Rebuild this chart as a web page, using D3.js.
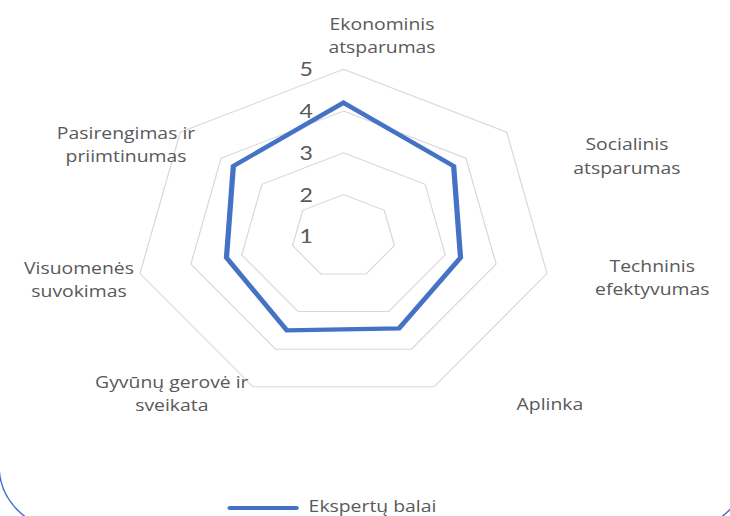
<!DOCTYPE html>
<html>
<head>
<meta charset="utf-8">
<script src="https://cdn.jsdelivr.net/npm/d3@7"></script>
<style>
  html, body { margin: 0; padding: 0; background: #ffffff; }
  svg { display: block; }
</style>
</head>
<body>
<div id="chart"></div>
<script>
// ---------- data ----------
const categories = [
  "Ekonominis atsparumas",
  "Socialinis atsparumas",
  "Techninis efektyvumas",
  "Aplinka",
  "Gyvūnų gerovė ir sveikata",
  "Visuomenės suvokimas",
  "Pasirengimas ir priimtinumas"
];
const seriesName = "Ekspertų balai";
const seriesValues = [4.2, 3.7, 3.3, 3.45, 3.5, 3.3, 3.7];
const tickValues = [1, 2, 3, 4, 5];
const tickLabels = ["1", "2", "3", "4", "5"];

// ---------- layout ----------
const W = 730, H = 516;
const stretchX = 1.25;          // the reference is drawn horizontally stretched
const cx = 274.8, cy = 236.3, R = 167;
// label block centre offsets from the outer vertex (unstretched space)
const labelNudge = [[30.8, -33.3], [96.2, 24.3], [84.2, 4.5], [92.7, 18.2], [-64.9, 7.2], [-48.8, 6.5], [-43.4, 12.8]];
const textColor = "#595959", gridColor = "#d9d9d9", blue = "#4472C4";

const svg = d3.select("#chart").append("svg").attr("width", W).attr("height", H);

// decorative rounded border (slide frame)
svg.append("rect")
  .attr("x", -1).attr("y", -120).attr("width", 749).attr("height", 649)
  .attr("rx", 64).attr("ry", 64)
  .attr("fill", "none").attr("stroke", blue).attr("stroke-width", 1.5);

const g = svg.append("g").attr("transform", `scale(${stretchX},1)`);

const r = d3.scaleLinear().domain([1, 5]).range([0, R]);
const angle = d3.scalePoint().domain(categories).range([0, 2 * Math.PI * (categories.length - 1) / categories.length]);

const pt = (cat, v) => {
  const a = angle(cat);
  return [cx + r(v) * Math.sin(a), cy - r(v) * Math.cos(a)];
};

// grid rings
tickValues.filter(v => v > 1).forEach(v => {
  g.append("path")
    .attr("d", d3.line()(categories.map(c => pt(c, v))) + "Z")
    .attr("fill", "none").attr("stroke", gridColor).attr("stroke-width", 1);
});

// tick labels
g.selectAll("text.tick").data(tickValues).join("text")
  .attr("class", "tick")
  .attr("x", cx - 24.5)
  .attr("y", v => cy - r(v) + 7)
  .attr("text-anchor", "end")
  .attr("font-family", "Lato, 'Open Sans', sans-serif")
  .attr("font-size", 18.5)
  .attr("fill", textColor)
  .text((v, i) => tickLabels[i]);

// series
g.append("path")
  .attr("d", d3.line()(categories.map((c, i) => pt(c, seriesValues[i]))) + "Z")
  .attr("fill", "none").attr("stroke", blue).attr("stroke-width", 4.2)
  .attr("stroke-linejoin", "miter");

// category labels
categories.forEach((c, i) => {
  const [vx, vy] = pt(c, 5);
  const bx = vx + labelNudge[i][0], by = vy + labelNudge[i][1];
  const sp = c.lastIndexOf(" ");
  const lines = (c.indexOf(" ") < 0) ? [c] : [c.slice(0, sp), c.slice(sp + 1)];
  const lh = 23.5;
  const t = g.append("text")
    .attr("text-anchor", "middle")
    .attr("font-family", "'Open Sans', sans-serif")
    .attr("font-size", 15.5)
    .attr("fill", textColor);
  lines.forEach((ln, k) => {
    t.append("tspan")
      .attr("x", bx)
      .attr("y", by + (k - (lines.length - 1) / 2) * lh + 5.5)
      .text(ln);
  });
});

// legend
g.append("line")
  .attr("x1", 184).attr("x2", 237).attr("y1", 508).attr("y2", 508)
  .attr("stroke", blue).attr("stroke-width", 4.2).attr("stroke-linecap", "round");
g.append("text")
  .attr("x", 246.9).attr("y", 512)
  .attr("font-family", "'Open Sans', sans-serif")
  .attr("font-size", 15.5)
  .attr("fill", textColor)
  .text(seriesName);
</script>
</body>
</html>
